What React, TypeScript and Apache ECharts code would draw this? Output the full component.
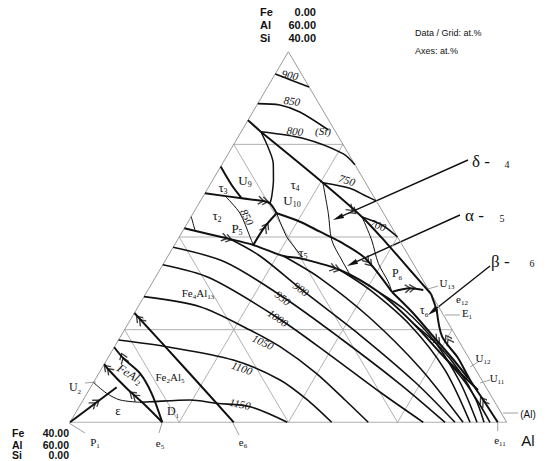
import React, { useEffect, useRef } from "react";
import * as echarts from "echarts";

type P = [number, number]; // [Al at.%, Si at.%], Fe = 100 - Al - Si

const alTicks = [70, 80, 90];
const feTicks = [10, 20, 30];
const siTicks = [10, 20, 30];

// ---- isotherms ----
const iso900Si: P[] = [[60.0, 37.6], [61.6, 37.0], [63.8, 36.2]];
const iso850Si: P[] = [[60.0, 34.4], [62.1, 34.25], [64.3, 33.5], [67.9, 31.55]];
const iso800Si: P[] = [[61.8, 31.36], [66.0, 30.65], [70.5, 29.0], [72.2, 27.8]];
const iso750Si: P[] = [[70.23, 25.86], [73.0, 25.26], [74.9, 24.42], [76.1, 23.9]];
const iso700Si: P[] = [[75.67, 22.16], [77.93, 21.29], [80.0, 20.0]];
const iso850T2: P[] = [[62.13, 24.32], [64.29, 22.56], [66.47, 20.03], [67.22, 19.14]];
const iso1000: P[] = [[60.0, 17.0], [65.03, 15.57], [73.42, 11.26], [80.19, 7.26], [86.75, 3.27], [92.36, 0]];
const iso950: P[] = [[60.0, 18.9], [65.55, 17.3], [72.75, 13.52], [80.18, 9.1], [88.16, 4.13], [94.35, 0]];
const iso900: P[] = [[64.77, 19.78], [68.43, 17.95], [74.11, 14.28], [81.85, 9.42], [89.42, 4.35], [95.26, 0]];
const iso850: P[] = [[70.57, 17.95], [75.11, 15.57], [81.85, 11.26], [89.13, 5.86], [96.0, 0]];
const iso800: P[] = [[76.51, 16.44], [80.34, 14.28], [85.89, 10.5], [91.53, 5.64], [96.64, 0]];
const iso750: P[] = [[81.41, 13.96], [84.62, 12.12], [89.1, 8.67], [93.54, 4.35], [97.28, 0]];
const iso700: P[] = [[86.35, 10.5], [89.54, 8.34], [93.01, 5.43], [95.99, 2.41], [97.92, 0]];
const iso680: P[] = [[90.88, 6.94], [94.0, 4.35], [96.62, 1.87], [98.47, 0]];
const iso1050: P[] = [[60, 13.56], [65.67, 12.48], [71.51, 9.96], [75.16, 8.16], [79.87, 5.32], [83.99, 2.41], [87.32, 0]];
const iso1100: P[] = [[60, 8.88], [64.78, 8.16], [71.6, 6.72], [76.96, 4.57], [80.88, 2.19], [83.97, 0]];
const iso1150: P[] = [[65.33, 2.16], [66.22, 2.22], [69.79, 2.41], [72.41, 2.05], [75.65, 1.68], [79.9, 0]];

// ---- univariant (monovariant) lines ----
const siLeft: P[] = [[60.0, 32.6], [61.8, 31.36]];
const siMain: P[] = [[61.8, 31.36], [70.23, 25.86], [75.67, 22.16], [79.35, 19.32], [82.92, 16.44], [86.15, 13.85]];
const e12E1: P[] = [[86.15, 13.85], [87.53, 12.12]];
const alBound: P[] = [[87.53, 12.12], [89.47, 9.24], [92.07, 6.94], [94.36, 4.57], [96.77, 2.3], [99.18, 0]];
const j1Curve: P[] = [[61.8, 31.36], [63.28, 29.71], [64.64, 27.95], [65.56, 26.15], [66.3, 24.35], [66.51, 23.62]];
const u9Line: P[] = [[60.0, 27.6], [62.0, 25.61], [63.64, 24.18]];
const lineB: P[] = [[60.0, 24.72], [63.64, 24.18], [65.77, 23.88], [66.51, 23.62], [67.65, 22.56]];
const u10Line: P[] = [[67.65, 22.56], [70.24, 21.65], [72.61, 20.57], [74.98, 19.49], [78.15, 17.73], [82.46, 14.06]];
const u10P5: P[] = [[67.65, 22.56], [67.3, 21.11], [67.22, 19.14]];
const u10Down: P[] = [[67.65, 22.56], [69.83, 20.03], [71.46, 18.6], [72.36, 17.79]];
const lineA: P[] = [[60, 20.94], [64.42, 19.86], [67.22, 19.14], [70.57, 17.95], [72.22, 17.7], [76.51, 16.44], [81.41, 13.96], [86.35, 10.5], [90.88, 6.94], [95.63, 3.49]];
const j2Down: P[] = [[70.23, 25.86], [72.38, 22.56], [74.13, 19.68], [76.13, 17.52], [78.04, 15.57]];
const p6Thin: P[] = [[75.67, 22.16], [77.79, 19.68], [79.66, 17.16], [81.56, 15.17], [82.46, 14.06]];
const p6U13: P[] = [[82.46, 14.06], [83.91, 14.46], [85.22, 14.28]];
const t56: P[] = [[82.46, 14.06], [85.38, 11.9], [88.45, 9.42], [91.52, 6.94], [94.07, 4.78]];
const leftShort: P[] = [[60, 22.2], [61.07, 20.75]];
const fe4Fe2: P[] = [[60, 11.8], [67.4, 6.0], [75.0, 0]];
const feAl2A: P[] = [[60, 8.1], [61.43, 6.91], [63.77, 5.29], [65.91, 3.13], [68.45, 0]];
const feAl2B: P[] = [[60, 6.29], [60.6, 5.75], [63.35, 3.67], [65.68, 2.05], [68.45, 0]];
const p1Line: P[] = [[60, 0], [62.39, 3.78]];
const epsCurve: P[] = [[60, 4.3], [61.79, 3.13], [63.38, 2.41], [65.33, 2.16]];

// flow direction marks: [Al, Si, direction deg]
const flowMarks: [number, number, number][] = [
  [65.75, 23.9, -8], [67.4, 21.0, 60], [64.42, 19.86, -15], [74.37, 22.91, -42],
  [75.97, 16.6, -16], [78.65, 17.32, -50], [83.91, 14.46, 5], [90.2, 8.9, 118],
  [96.75, 2.22, 123], [89.11, 8.88, -50], [60.89, 11.04, 132], [61.43, 6.91, 110],
  [60.6, 5.75, 135], [64.41, 2.89, 140], [61.26, 2.06, 36],
];

const tern = (p: P): [number, number] => [p[0] + p[1] / 2, p[1]];

const SERIF = "'Liberation Serif','Times New Roman',serif";
const SANS = "'Liberation Sans',Arial,Helvetica,sans-serif";

function sub(x: number, y: number, main: string, s: string, size: number, family = SERIF, extra: any = {}) {
  const ss = Math.round(size * 0.62);
  return {
    type: "text", x, y, ...extra,
    style: {
      text: s ? `{m|${main}}{s|${s}}` : `{m|${main}}`,
      rich: {
        m: { fontSize: size, fontFamily: family, fill: "#111", lineHeight: size + 4, verticalAlign: "middle" },
        s: { fontSize: ss, fontFamily: family, fill: "#111", lineHeight: ss + 1, verticalAlign: "bottom" },
      },
      align: "center", verticalAlign: "middle", textAlign: "center", textVerticalAlign: "middle",
    },
  };
}

function txt(x: number, y: number, text: string, font: string, align = "center", rotation = 0) {
  return {
    type: "text", x, y, rotation,
    style: { text, font, fill: "#111", align, verticalAlign: "middle", textAlign: align, textVerticalAlign: "middle" },
  };
}

function leader(x1: number, y1: number, x2: number, y2: number) {
  return { type: "line", shape: { x1, y1, x2, y2 }, style: { stroke: "#888", lineWidth: 0.8 } };
}

function pointer(x1: number, y1: number, x2: number, y2: number) {
  const a = Math.atan2(y2 - y1, x2 - x1);
  const L = 11, W = 2.6;
  const bx = x2 - L * Math.cos(a), by = y2 - L * Math.sin(a);
  const nx = -Math.sin(a) * W, ny = Math.cos(a) * W;
  return [
    { type: "line", shape: { x1, y1, x2: bx, y2: by }, style: { stroke: "#111", lineWidth: 1.4 } },
    { type: "polygon", shape: { points: [[x2, y2], [bx + nx, by + ny], [bx - nx, by - ny]] }, style: { fill: "#111" } },
  ];
}

export default function App() {
  const ref = useRef<HTMLDivElement>(null);
  useEffect(() => {
    document.body.style.margin = "0";
    const chart = echarts.init(ref.current!, null, { renderer: "svg" });

    const line = (pts: P[], width: number, color = "#111", smooth: number | boolean = 0.3, z = 3) => ({
      type: "line", data: pts.map(tern), symbol: "none", smooth, silent: true, z,
      lineStyle: { color, width }, animation: false,
    });

    const grey = "#a8a8a8";
    const gridSeries: any[] = [];
    siTicks.forEach((si) => gridSeries.push(line([[60, si], [100 - si, si]], 0.9, grey, false, 1)));
    alTicks.forEach((al) => gridSeries.push(line([[al, 0], [al, 100 - al]], 0.9, grey, false, 1)));
    feTicks.forEach((fe) => gridSeries.push(line([[100 - fe, 0], [60, 40 - fe]], 0.9, grey, false, 1)));
    gridSeries.push(line([[60, 0], [100, 0], [60, 40], [60, 0]], 1, "#999", false, 1));

    const isoW = 1.6, thick = 2.0, thin = 1.0;
    const curveSeries = [
      line(iso900Si, isoW), line(iso850Si, isoW), line(iso800Si, isoW), line(iso750Si, isoW), line(iso700Si, isoW),
      line(iso850T2, thin), line(iso1000, isoW), line(iso950, isoW), line(iso900, isoW), line(iso850, isoW),
      line(iso800, isoW), line(iso750, isoW), line(iso700, isoW), line(iso680, isoW), line(iso1050, isoW),
      line(iso1100, isoW), line(iso1150, isoW),
      line(siLeft, thick), line(siMain, thick), line(e12E1, thick), line(alBound, thick), line(j1Curve, 1.5),
      line(u9Line, thick), line(lineB, thick), line(u10Line, thick), line(u10P5, thick), line(u10Down, thin),
      line(lineA, thick), line(j2Down, thin), line(p6Thin, thin), line(p6U13, thick), line(t56, thick),
      line(leftShort, thin), line(fe4Fe2, thick), line(feAl2A, thick), line(feAl2B, thick), line(p1Line, thick),
      line(epsCurve, thin),
    ];

    const tickSeries = {
      type: "scatter", symbolSize: 1, itemStyle: { opacity: 0 }, silent: true, z: 5,
      label: { show: true, position: "inside", color: "#111", fontSize: 9, fontWeight: "bold", fontFamily: SANS },
      data: [
        ...alTicks.map((al) => ({ value: tern([al, 0]), label: { formatter: String(al), offset: [-2, 9] } })),
        ...feTicks.map((fe) => ({ value: tern([60, 40 - fe]), label: { formatter: String(fe), offset: [-8, -9] } })),
        ...siTicks.map((si) => ({ value: tern([100 - si, si]), label: { formatter: String(si), offset: [14, -3] } })),
      ],
    };

    const flowSeries = {
      type: "scatter", silent: true, z: 6,
      symbol: "path://M0,0L5,4L0,8M4,0L9,4L4,8", symbolSize: [10, 8],
      itemStyle: { color: "rgba(0,0,0,0)", borderColor: "#111", borderWidth: 1.4 },
      data: flowMarks.map((m) => ({ value: tern([m[0], m[1]]), symbolRotate: m[2] })),
    };

    const hb = `bold 11px ${SANS}`;
    const hb2 = `bold 10.5px ${SANS}`;
    const isoF = `italic 11px ${SERIF}`;
    const graphic: any[] = [
      txt(260, 12, "Fe", hb, "left"), txt(316, 12, "0.00", hb, "right"),
      txt(260, 25, "Al", hb, "left"), txt(316, 25, "60.00", hb, "right"),
      txt(260, 38, "Si", hb, "left"), txt(316, 38, "40.00", hb, "right"),
      txt(12, 433, "Fe", hb2, "left"), txt(69, 433, "40.00", hb2, "right"),
      txt(12, 444.5, "Al", hb2, "left"), txt(69, 444.5, "60.00", hb2, "right"),
      txt(12, 455, "Si", hb2, "left"), txt(69, 455, "0.00", hb2, "right"),
      txt(415, 33, "Data / Grid: at.%", `9px ${SANS}`, "left"),
      txt(415, 51, "Axes: at.%", `9px ${SANS}`, "left"),
      // isotherm labels
      txt(290, 75, "900", isoF, "center", -0.2),
      txt(292, 101, "850", isoF, "center", -0.15),
      txt(295, 131, "800", isoF, "center", -0.12),
      txt(347, 180, "750", isoF, "center", -0.3),
      txt(378, 225, "700", isoF, "center", -0.35),
      txt(247, 217, "850", isoF, "center", -1.1),
      txt(301, 289, "900", isoF, "center", -0.65),
      txt(283, 298, "950", isoF, "center", -0.7),
      txt(278, 318, "1000", isoF, "center", -0.6),
      txt(263, 342, "1050", isoF, "center", -0.45),
      txt(242, 368, "1100", isoF, "center", -0.35),
      txt(240, 404, "1150", isoF, "center", -0.2),
      txt(323, 131, "(Si)", `italic 11px ${SERIF}`),
      // phase / point labels
      sub(223, 187, "τ", "3", 13), sub(245, 180, "U", "9", 13), sub(295, 184, "τ", "4", 13),
      sub(292, 200, "U", "10", 13), sub(217, 215, "τ", "2", 13), sub(237, 228, "P", "5", 13),
      sub(303, 252, "τ", "5", 13), sub(397, 273, "P", "6", 12), sub(424, 310, "τ", "6", 12),
      sub(173, 411, "D", "1", 12), sub(118, 410, "ε", "", 13),
      sub(447, 283, "U", "13", 11), sub(462, 299, "e", "12", 11), sub(467, 313, "E", "1", 11),
      sub(483, 358, "U", "12", 11), sub(497, 378, "U", "11", 11), sub(500, 440, "e", "11", 11),
      sub(160, 443, "e", "5", 11), sub(243, 442, "e", "6", 11), sub(95, 442, "P", "1", 11), sub(75, 387, "U", "2", 12),
      {
        type: "text", x: 198, y: 293,
        style: {
          text: "{m|Fe}{s|4}{m|Al}{s|13}", align: "center", verticalAlign: "middle", textAlign: "center", textVerticalAlign: "middle",
          rich: { m: { fontSize: 11, fontFamily: SERIF, fill: "#111", lineHeight: 15 }, s: { fontSize: 7, fontFamily: SERIF, fill: "#111", lineHeight: 8, verticalAlign: "bottom" } },
        },
      },
      {
        type: "text", x: 170, y: 377,
        style: {
          text: "{m|Fe}{s|2}{m|Al}{s|5}", align: "center", verticalAlign: "middle", textAlign: "center", textVerticalAlign: "middle",
          rich: { m: { fontSize: 11, fontFamily: SERIF, fill: "#111", lineHeight: 15 }, s: { fontSize: 7, fontFamily: SERIF, fill: "#111", lineHeight: 8, verticalAlign: "bottom" } },
        },
      },
      {
        type: "text", x: 130, y: 374, rotation: -0.55,
        style: {
          text: "{m|FeAl}{s|2}", align: "center", verticalAlign: "middle", textAlign: "center", textVerticalAlign: "middle",
          rich: { m: { fontSize: 12, fontFamily: SERIF, fontStyle: "italic", fill: "#111", lineHeight: 16 }, s: { fontSize: 8, fontFamily: SERIF, fill: "#111", lineHeight: 9, verticalAlign: "bottom" } },
        },
      },
      txt(528, 414, "(Al)", `10px ${SANS}`),
      txt(528, 440, "Al", `15px ${SANS}`),
      // leaders
      leader(85, 383, 96, 382), leader(69, 423, 85, 433), leader(162, 423, 159, 433), leader(233, 423, 239, 435),
      leader(497.7, 423, 497.7, 431), leader(503, 413, 518, 413), leader(480, 383, 490, 380), leader(470, 367, 478, 362),
      leader(445, 315, 460, 315), leader(428, 289, 438, 286),
      // δ α β pointers
      ...pointer(468, 160, 333, 220), ...pointer(460, 215, 347, 266), ...pointer(490, 266, 428, 315),
      txt(472, 161, "δ -", `17px ${SERIF}`, "left"), txt(507, 164, "4", `10px ${SERIF}`),
      txt(465, 215, "α -", `17px ${SERIF}`, "left"), txt(502, 218, "5", `10px ${SERIF}`),
      txt(491, 261, "β -", `17px ${SERIF}`, "left"), txt(532, 263, "6", `10px ${SERIF}`),
    ];

    chart.setOption({
      animation: false,
      grid: { left: 70, right: 42.3, top: 51.7, bottom: 38.7 },
      xAxis: { type: "value", min: 60, max: 100, show: false },
      yAxis: { type: "value", min: 0, max: 40, show: false },
      series: [...gridSeries, ...curveSeries, tickSeries, flowSeries],
      graphic,
    });
    return () => chart.dispose();
  }, []);
  return <div ref={ref} style={{ width: 549, height: 461, background: "#fff" }} />;
}
